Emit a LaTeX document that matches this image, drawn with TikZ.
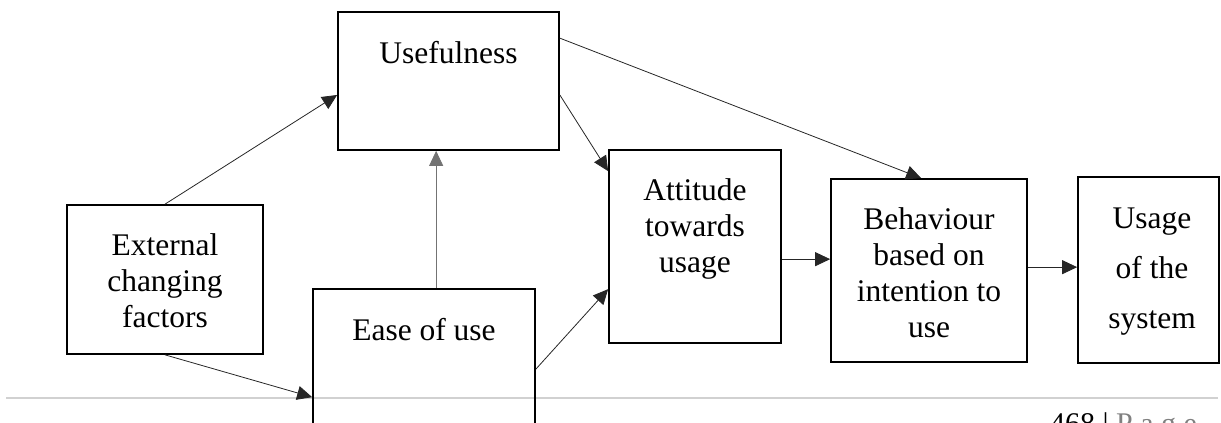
\documentclass[tikz,border=0pt]{standalone}
\usepackage{fontspec}
\setmainfont{Liberation Serif}
\usetikzlibrary{arrows.meta,calc}
\begin{document}
\begin{tikzpicture}[x=1pt,y=-1pt,
  box/.style={draw=black,line width=1.7pt,rectangle,inner sep=0pt},
  txt/.style={inner sep=0pt,align=center,font=\fontsize{31.5}{36}\selectfont},
  arr/.style={line width=0.8pt,draw=black!85,-{Triangle[length=15pt,width=14pt]}},
  garr/.style={arr,draw=black!55}]
\useasboundingbox (0,0) rectangle (1221,423);
\clip (0,0) rectangle (1221,423);
% footer rule
\draw[line width=2pt,draw=black!18] (6,398) -- (1218,398);
% boxes
\node[box,minimum width=221pt,minimum height=138pt] (use) at (448.5,81) {};
\node[box,minimum width=196pt,minimum height=149pt] (ext) at (165,279.5) {};
\node[box,minimum width=222pt,minimum height=160pt] (ease) at (424,369) {};
\node[box,minimum width=172pt,minimum height=193pt] (att) at (695,246.5) {};
\node[box,minimum width=196pt,minimum height=183pt] (beh) at (929,270.5) {};
\node[box,minimum width=141pt,minimum height=186pt] (sys) at (1148.5,270) {};
% texts (anchor = baseline of the last line)
\node[txt,anchor=base] (tuse) at (448.5,63) {Usefulness};
\node[txt,anchor=base] (text) at (165,327) {External\\changing\\factors};
\node[txt,anchor=base] (tease) at (424,340) {Ease of use};
\node[txt,anchor=base] (tatt) at (695,272) {Attitude\\towards\\usage};
\node[txt,anchor=base] (tbeh) at (929,337) {Behaviour\\based on\\intention to\\use};
\node[txt,anchor=base,font=\fontsize{31.5}{50}\selectfont] (tsys) at (1152,328) {Usage\\of the\\system};
% connectors
\draw[arr] (ext.north) -- ($(use.north west)!0.6!(use.south west)$);
\draw[arr] (ext.south) -- ($(ease.north west)+(0,109)$);
\draw[garr] ($(ease.north west)+(124,0)$) coordinate (eu) -- (eu |- use.south);
\draw[arr] ($(use.north east)!0.6!(use.south east)$) -- ($(att.north west)+(0,22)$);
\draw[arr] ($(use.north east)+(0,27)$) -- ($(beh.north west)+(91,0)$);
\draw[arr] ($(ease.north east)+(0,81)$) -- ($(att.north west)+(0,140)$);
\draw[arr] ($(att.north east)+(0,110)$) coordinate (ab) -- (ab -| beh.west);
\draw[arr] ($(beh.north east)+(0,89)$) coordinate (bs) -- (bs -| sys.west);
% footer
\node[inner sep=0pt,anchor=base west,font=\fontsize{30}{36}\selectfont] (foot) at (1050,433) {468 | \textcolor{black!50}{P a g e}};
\end{tikzpicture}
\end{document}
